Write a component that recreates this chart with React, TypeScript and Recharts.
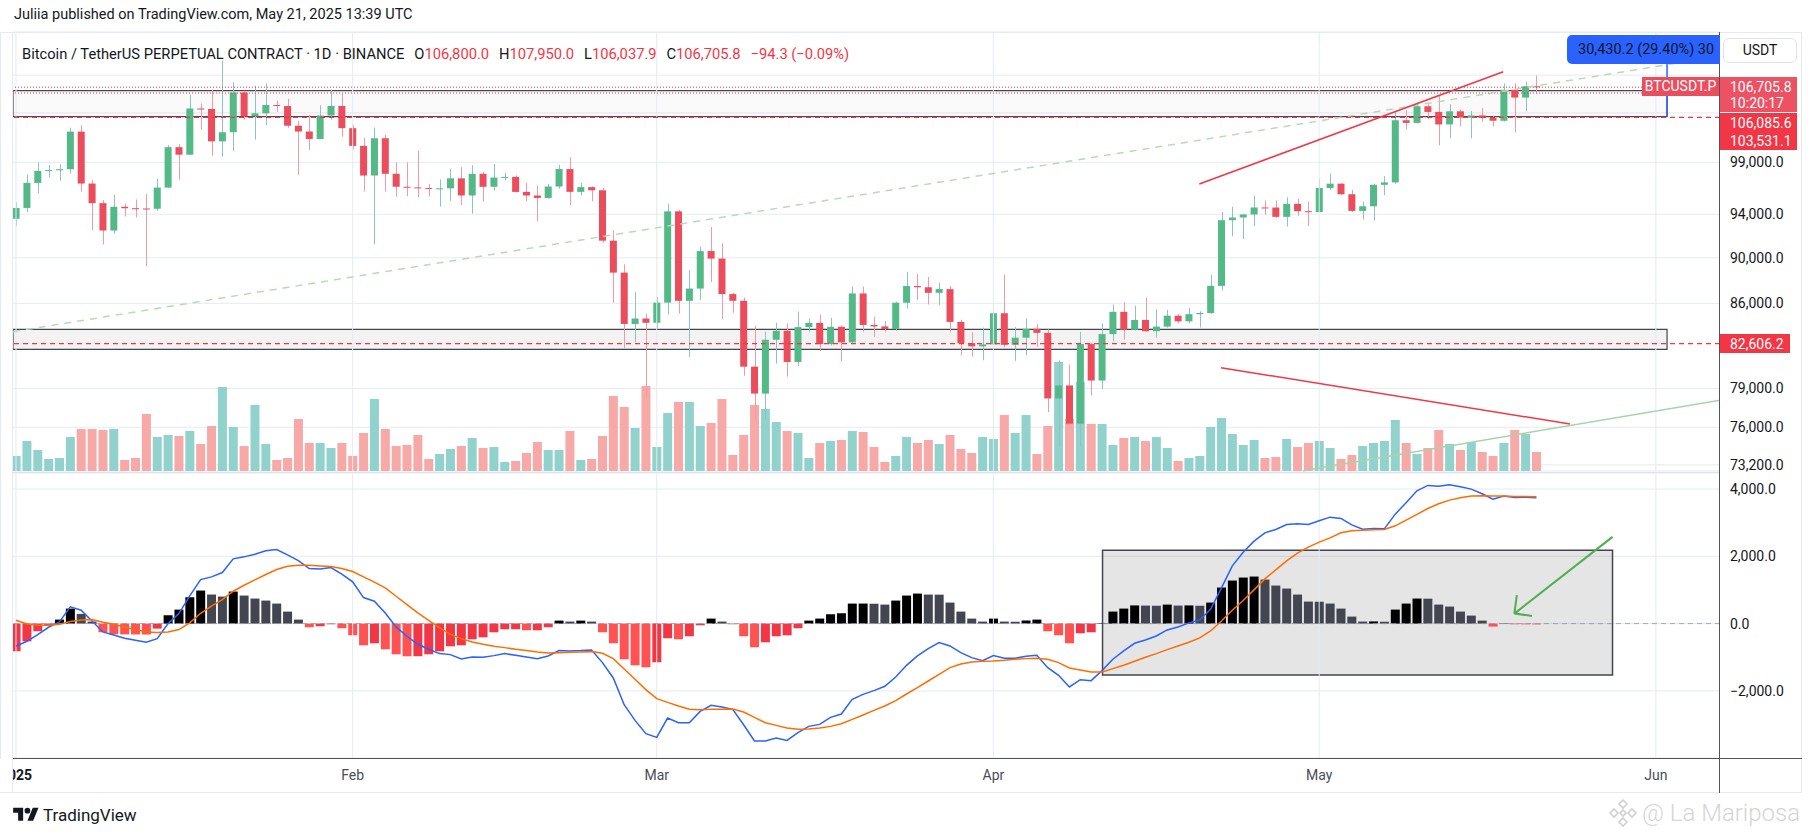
import {
  ComposedChart,
  Bar,
  Line,
  XAxis,
  YAxis,
  CartesianGrid,
  ReferenceLine,
  ReferenceArea,
  Cell,
} from 'recharts'

const FONT = 'Roboto, "Noto Sans", sans-serif'
const W = 1814
const PLOT_LEFT = 13
const AXIS_W = 94
const X_DOMAIN: [number, number] = [-0.276, 156.906]
const P_DOMAIN: [number, number] = [72751, 112748]
const VOL_DOMAIN: [number, number] = [0, 1756]
const MACD_DOMAIN: [number, number] = [-3994, 4475]

const GRID = '#e4ebf2'
const UP = '#53b987'
const DOWN = '#eb4d5c'
const WICK_UP = '#8fc3bd'
const WICK_DOWN = '#f09aa4'
const VOL_UP = '#92d2cc'
const VOL_DOWN = '#f6a9a7'
const RED = '#f23645'

// day index 0 = Jan 1 2025
const MONTH_TICKS = [0, 31, 59, 90, 120, 151]
const MONTH_LABELS = ['2025', 'Feb', 'Mar', 'Apr', 'May', 'Jun']
const PRICE_TICKS = [73200, 76000, 79000, 86000, 90000, 94000, 99000, 104000, 108000]
// these two sit under the price labels on the scale
const HIDDEN_TICKS = [104000, 108000]
const MACD_TICKS = [-2000, 0, 2000, 4000]

const OPEN = [
  93576, 94591, 96984, 98143, 98236, 98314, 102078, 96922, 95043, 92484,
  94701, 94566, 94540, 94516, 96534, 100504, 99756, 104462, 104408, 101089,
  102016, 106147, 103653, 103960, 104819, 104714, 102682, 102087, 101332, 103733,
  104722, 102429, 100635, 97700, 101405, 97871, 96615, 96554, 96500, 96444,
  96462, 97430, 95778, 97869, 96608, 97500, 97569, 96118, 95773, 95539,
  96635, 98333, 96125, 96577, 96273, 91552, 88680, 84250, 84708, 84350,
  86064, 94270, 86220, 87281, 90606, 89931, 86801, 86222, 80734, 78595,
  82932, 83680, 81115, 83983, 84338, 82574, 84010, 82718, 86854, 84167,
  84044, 83832, 86054, 87498, 87392, 86909, 87232, 84424, 82648, 82390,
  82550, 85158, 82516, 83102, 83843, 83504, 78214, 79235, 76271, 82573,
  79626, 83404, 85276, 83760, 84591, 83643, 84030, 84947, 84474, 85077,
  85179, 87516, 93442, 93691, 93980, 94638, 94630, 93754, 94978, 94284,
  94207, 96492, 96910, 95891, 94315, 94748, 96802, 97032, 103241, 102971,
  104696, 104106, 102812, 104169, 103539, 103744, 103489, 103191, 106430, 105606,
  106800,
]

const HIGH = [
  95150, 97800, 98976, 98734, 98800, 102482, 102724, 97258, 95349, 95836,
  95000, 95400, 95900, 97372, 100700, 100800, 105865, 104988, 106422, 109588,
  107240, 106327, 106850, 107120, 105286, 105470, 103200, 103783, 104782, 106457,
  106012, 102783, 101456, 102500, 101745, 99000, 99000, 100137, 96880, 97323,
  98345, 98500, 98711, 98080, 98826, 97970, 97715, 97000, 96700, 96899,
  98757, 99500, 96980, 96650, 96500, 92500, 89414, 87000, 85120, 86558,
  95000, 94416, 88900, 91000, 92810, 91300, 86900, 86500, 84100, 83600,
  84350, 84300, 85300, 84700, 85050, 84750, 84100, 87450, 87450, 84850,
  84500, 86150, 88750, 88550, 88300, 87800, 87500, 84600, 83550, 83950,
  85600, 88500, 83998, 84700, 84230, 83800, 81243, 80900, 83588, 82700,
  84300, 85900, 86100, 85800, 86500, 85500, 85450, 85100, 85600, 85320,
  88500, 94200, 94700, 94000, 95750, 95300, 95300, 95600, 95450, 95200,
  97450, 97900, 96950, 96300, 95200, 96900, 97650, 104200, 104300, 104950,
  105000, 105800, 104900, 104350, 104200, 104500, 103700, 107100, 107100, 107300,
  107950,
]

const LOW = [
  92900, 94200, 96000, 97500, 97200, 97900, 96132, 92500, 91203, 92206,
  93800, 93700, 89256, 94322, 96466, 97300, 99700, 102277, 99651, 99550,
  100100, 103300, 101262, 102750, 104100, 102460, 97777, 100233, 101328, 103300,
  101560, 100279, 96150, 91231, 96150, 95656, 95700, 95620, 95688, 94713,
  95256, 94850, 94059, 95200, 96252, 97223, 96046, 95200, 93340, 95465,
  96415, 94871, 95770, 95227, 91370, 86050, 82256, 82716, 78258, 83824,
  85050, 85117, 81500, 86300, 87850, 84667, 85200, 80000, 76606, 76555,
  80980, 79930, 80800, 83600, 82000, 82450, 81150, 82600, 83600, 83150,
  83600, 83700, 85550, 86300, 85900, 85850, 83600, 81650, 81550, 81250,
  82450, 82300, 81200, 81650, 82350, 77153, 74508, 76200, 74589, 78450,
  78950, 82800, 82950, 83700, 83600, 83100, 83950, 84300, 84300, 83950,
  85100, 87100, 91950, 91700, 92900, 93950, 93650, 92850, 93850, 92900,
  94200, 96300, 95800, 94200, 93500, 93400, 95800, 96900, 102300, 102900,
  103350, 100700, 101400, 102600, 101400, 103100, 102600, 103100, 102000, 104200,
  106037.9,
]

const CLOSE = [
  94591, 96984, 98143, 98236, 98314, 102078, 96922, 95043, 92484, 94701,
  94566, 94488, 94516, 96534, 100504, 99756, 104462, 104408, 101089, 102016,
  106147, 103653, 103960, 104819, 104714, 102682, 102087, 101332, 103733, 104722,
  102429, 100635, 97700, 101405, 97871, 96615, 96554, 96500, 96444, 96462,
  97430, 95778, 97869, 96608, 97500, 97569, 96118, 95773, 95539, 96635,
  98333, 96125, 96577, 96273, 91552, 88680, 84250, 84708, 84350, 86064,
  94270, 86220, 87281, 90606, 89931, 86801, 86222, 80734, 78595, 82932,
  83680, 81115, 83983, 84338, 82574, 84010, 82718, 86854, 84167, 84044,
  83832, 86054, 87498, 87392, 86909, 87232, 84424, 82648, 82390, 82550,
  85158, 82516, 83102, 83843, 83504, 78214, 79235, 76271, 82573, 79626,
  83404, 85276, 83760, 84591, 83643, 84030, 84947, 84474, 85077, 85179,
  87516, 93442, 93691, 93980, 94638, 94630, 93754, 94978, 94284, 94207,
  96492, 96910, 95891, 94315, 94748, 96802, 97032, 103241, 102971, 104696,
  104106, 102812, 104169, 103539, 103744, 103489, 103191, 106430, 105606, 106800,
  106705.8,
]

// thousand BTC
const VOLUME = [
  60, 120, 84, 48, 52, 136, 168, 168, 164, 168, 44, 52, 228, 136, 144, 140, 160, 108, 180, 336,
  176, 100, 264, 108, 44, 52, 208, 112, 112, 92, 112, 60, 152, 288, 168, 100,
  104, 144, 48, 68, 88, 100, 132, 92, 96, 36, 40, 72, 116, 84, 84, 160, 44, 48, 140, 300,
  256, 172, 340, 96, 232, 276, 276, 180, 192, 288, 64, 144, 264, 248, 196, 160,
  152, 52, 112, 120, 124, 160, 156, 96, 36, 60, 136, 112, 124, 108, 144, 88, 72, 136, 128, 224,
  152, 224, 68, 180, 436, 208, 356, 188, 188, 104, 132, 136, 120, 136, 92, 40,
  52, 60, 176, 212, 148, 104, 124, 52, 56, 128, 96, 112, 120, 92, 48, 64, 100, 112, 120, 204,
  112, 68, 92, 164, 108, 84, 116, 76, 60, 112, 164, 148, 76,
]

const MACD = [
  -674, -526, -327, -109, 50, 496, 397, 79, -248, -337,
  -436, -496, -555, -446, 0, 297, 823, 1309, 1388, 1517,
  1924, 1983, 2063, 2162, 2201, 2043, 1874, 1636, 1626, 1666,
  1468, 1240, 773, 664, 317, -99, -377, -615, -764, -892,
  -922, -1051, -992, -1002, -952, -892, -942, -992, -1041, -962,
  -803, -813, -803, -783, -1160, -1616, -2410, -2876, -3272, -3381,
  -2806, -2945, -2945, -2608, -2430, -2479, -2549, -3005, -3490, -3490,
  -3401, -3471, -3243, -3054, -2995, -2786, -2687, -2251, -2102, -1993,
  -1864, -1587, -1240, -962, -744, -565, -664, -863, -1011, -1101,
  -952, -1031, -1031, -972, -942, -1309, -1537, -1884, -1666, -1696,
  -1398, -1060, -813, -585, -486, -367, -188, -99, 20, 109,
  426, 1061, 1715, 2122, 2449, 2697, 2796, 2945, 2965, 2945,
  3054, 3163, 3124, 2935, 2806, 2826, 2816, 3252, 3590, 3947,
  4105, 4085, 4125, 4066, 3996, 3857, 3699, 3788, 3748, 3758,
  3738,
]

const SIGNAL = [
  99, -10, -50, -50, -20, 59, 109, 119, 40, -20,
  -109, -178, -248, -268, -248, -178, 20, 307, 516, 714,
  962, 1140, 1299, 1458, 1606, 1706, 1735, 1735, 1715, 1696,
  1636, 1547, 1388, 1230, 1061, 813, 565, 317, 99, -129,
  -317, -446, -545, -615, -674, -714, -764, -803, -843, -873,
  -863, -853, -843, -833, -883, -1041, -1349, -1656, -1963, -2231,
  -2340, -2449, -2548, -2558, -2548, -2548, -2538, -2628, -2786, -2945,
  -3024, -3104, -3143, -3133, -3104, -3054, -2975, -2846, -2717, -2578,
  -2449, -2291, -2092, -1904, -1706, -1507, -1309, -1200, -1140, -1121,
  -1111, -1091, -1061, -1041, -1031, -1061, -1160, -1319, -1378, -1438,
  -1438, -1339, -1240, -1121, -1002, -892, -773, -664, -555, -426,
  -218, 79, 397, 684, 1002, 1329, 1597, 1864, 2092, 2271,
  2420, 2548, 2697, 2757, 2777, 2786, 2796, 2905, 3074, 3243,
  3421, 3560, 3669, 3738, 3788, 3798, 3788, 3788, 3778, 3778,
  3768,
]

const HIST = [
  -823, -526, -228, -60, 119, 446, 288, 60, -258, -317,
  -320, -322, -325, -149, 248, 416, 783, 982, 863, 803,
  952, 833, 744, 684, 595, 357, 119, -109, -79, -20,
  -139, -347, -645, -585, -764, -912, -972, -970, -912, -823,
  -674, -645, -466, -407, -258, -169, -169, -198, -198, -109,
  89, 60, 89, 60, -258, -585, -1061, -1240, -1299, -1150,
  -436, -466, -377, -50, 149, 60, -20, -377, -704, -555,
  -377, -347, -139, 89, 149, 278, 307, 595, 595, 590,
  565, 684, 833, 892, 863, 860, 625, 357, 149, 60,
  149, 60, 55, 89, 119, -228, -347, -585, -288, -258,
  15, 357, 446, 540, 535, 530, 565, 535, 540, 530,
  625, 1071, 1279, 1368, 1398, 1309, 1130, 1041, 863, 654,
  650, 595, 446, 208, 60, 65, 55, 416, 595, 744,
  740, 565, 506, 357, 238, 89, -89, 10, -20, -22,
  -24,
]

// drawings (day index, price / macd value)
const GREEN_TREND = [{ x: -0.276, y: 83602 }, { x: 156.906, y: 110058 }]
const RED_TREND_UP = [{ x: 108.96, y: 96879 }, { x: 136.95, y: 108370 }]
const RED_TREND_VOL = [{ x: 110.96, y: 80653 }, { x: 143.09, y: 76245 }]
const GREEN_TREND_VOL = [{ x: 118.51, y: 72776 }, { x: 156.906, y: 78080 }]
const MEASURE_LINE = [{ x: 152.03, y: 109204 }, { x: 152.03, y: 103610 }]
const ZONE_TOP = { x1: -0.276, x2: 152.03, y1: 103610, y2: 106333 }
const ZONE_BOTTOM = { x1: -0.276, x2: 152.03, y1: 82145, y2: 83802 }
const MACD_BOX = { x1: 100.05, x2: 147.01, y1: -1527, y2: 2182 }
const ARROW = [
  [{ x: 147.01, y: 2578 }, { x: 137.97, y: 297 }],
  [{ x: 137.97, y: 297 }, { x: 138.2, y: 843 }],
  [{ x: 137.97, y: 297 }, { x: 139.6, y: 228 }],
]

type Row = {
  d: number; o: number; h: number; l: number; c: number
  vol: number; macd: number; sig: number; hist: number
}

const rows: Row[] = CLOSE.map((c, i) => ({
  d: i, o: OPEN[i], h: HIGH[i], l: LOW[i], c,
  vol: VOLUME[i], macd: MACD[i], sig: SIGNAL[i], hist: HIST[i],
}))

function histColor(i: number) {
  const v = HIST[i]
  const prev = i > 0 ? HIST[i - 1] : -Infinity
  if (v >= 0) return v >= prev ? '#000000' : '#434651'
  return v < prev ? '#ff5252' : '#f23645'
}

const fmt1 = (v: number) =>
  (v < 0 ? '\u2212' : '') +
  Math.abs(v).toLocaleString('en-US', { minimumFractionDigits: 1, maximumFractionDigits: 1 })

const priceFmt = (v: number) => (HIDDEN_TICKS.includes(v) ? '' : fmt1(v))

function Candle(props: any) {
  const { x, y, width, height, payload } = props
  if (!payload || x == null || y == null) return null
  const { o, h, l, c } = payload as Row
  const top = Math.min(y, y + height)
  const hgt = Math.abs(height)
  const lh = Math.log(h)
  const span = lh - Math.log(l) || 1
  const py = (v: number) => top + (hgt * (lh - Math.log(v))) / span
  const up = c >= o
  const bTop = py(Math.max(o, c))
  const bBot = py(Math.min(o, c))
  const cx = Math.round(x + width / 2) + 0.5
  return (
    <g>
      <line x1={cx} x2={cx} y1={top} y2={top + hgt} stroke={up ? WICK_UP : WICK_DOWN} strokeWidth={1} />
      <rect x={x} y={bTop} width={width} height={Math.max(1, bBot - bTop)} fill={up ? UP : DOWN} />
    </g>
  )
}

function MonthTick(props: any) {
  const { x, y, payload } = props
  const i = MONTH_TICKS.indexOf(payload.value)
  return (
    <text
      x={x}
      y={y}
      dy={14}
      textAnchor="middle"
      fontSize={14}
      fontFamily={FONT}
      fontWeight={i === 0 ? 700 : 400}
      fill={i === 0 ? '#131722' : '#4a4d57'}
    >
      {MONTH_LABELS[i]}
    </text>
  )
}

const axisTick = { fontSize: 14, fill: '#131722', fontFamily: FONT }

function PriceLabel({ top, height, bg, children, width = 77 }: any) {
  return (
    <div
      style={{
        position: 'absolute', left: 1720, top, width, height, background: bg,
        color: '#fff', fontSize: 14, paddingLeft: 10, boxSizing: 'border-box',
        display: 'flex', flexDirection: 'column', justifyContent: 'center', lineHeight: '16px',
        whiteSpace: 'nowrap',
      }}
    >
      {children}
    </div>
  )
}

function Legend() {
  const items: [string, string][] = [
    ['O', '106,800.0'],
    ['H', '107,950.0'],
    ['L', '106,037.9'],
    ['C', '106,705.8'],
  ]
  return (
    <div style={{ position: 'absolute', left: 22, top: 45, fontSize: 14.7, lineHeight: '18px', color: '#131722', whiteSpace: 'nowrap' }}>
      <span>Bitcoin / TetherUS PERPETUAL CONTRACT · 1D · BINANCE</span>
      {items.map(([k, v]) => (
        <span key={k} style={{ marginLeft: 10 }}>
          {k}
          <span style={{ color: RED }}>{v}</span>
        </span>
      ))}
      <span style={{ marginLeft: 10, color: RED }}>{'\u221294.3 (\u22120.09%)'}</span>
    </div>
  )
}

export default function App() {
  return (
    <div style={{ position: 'absolute', left: 0, top: 0, width: W, height: 837, overflow: 'hidden', background: '#fff', fontFamily: FONT }}>
      <div style={{ position: 'absolute', left: 14, top: 6, fontSize: 14.5, lineHeight: '18px', color: '#131722', whiteSpace: 'nowrap' }}>
        Juliia published on TradingView.com, May 21, 2025 13:39 UTC
      </div>

      {/* chart frame */}
      <div style={{ position: 'absolute', left: 0, top: 32, width: 1802, height: 761, border: '1px solid #e6e9ef', boxSizing: 'border-box' }} />

      {/* price + volume pane */}
      <div style={{ position: 'absolute', left: 0, top: 0 }}>
        <ComposedChart width={W} height={480} data={rows} margin={{ top: 32, right: 0, bottom: 9, left: PLOT_LEFT }}>
          <XAxis xAxisId="c" type="number" dataKey="d" domain={X_DOMAIN} allowDataOverflow hide />
          <XAxis xAxisId="v" type="number" dataKey="d" domain={X_DOMAIN} allowDataOverflow hide />
          <YAxis
            yAxisId="p"
            orientation="right"
            width={AXIS_W}
            scale="log"
            domain={P_DOMAIN}
            allowDataOverflow
            ticks={PRICE_TICKS}
            interval={0}
            tickFormatter={priceFmt}
            tick={axisTick}
            axisLine={false}
            tickLine={false}
            tickMargin={4}
          />
          <YAxis yAxisId="v" domain={VOL_DOMAIN} allowDataOverflow hide />
          <CartesianGrid xAxisId="c" yAxisId="p" vertical={false} stroke={GRID} />
          {MONTH_TICKS.map((t) => (
            <ReferenceLine key={t} xAxisId="c" yAxisId="p" x={t} stroke={GRID} ifOverflow="visible" />
          ))}
          <ReferenceArea xAxisId="c" yAxisId="p" {...ZONE_TOP} fill="rgba(120,123,134,0.04)" fillOpacity={1} stroke="#434651" strokeWidth={1.2} ifOverflow="visible" />
          <ReferenceArea xAxisId="c" yAxisId="p" {...ZONE_BOTTOM} fill="rgba(120,123,134,0.09)" fillOpacity={1} stroke="#434651" strokeWidth={1.2} ifOverflow="visible" />
          <Bar xAxisId="v" yAxisId="v" dataKey="vol" barSize={9} isAnimationActive={false}>
            {rows.map((r) => (
              <Cell key={r.d} fill={r.c >= r.o ? VOL_UP : VOL_DOWN} />
            ))}
          </Bar>
          <Bar
            xAxisId="c"
            yAxisId="p"
            dataKey={(r: Row) => [r.l, r.h]}
            barSize={7}
            shape={Candle}
            isAnimationActive={false}
          />
          <ReferenceLine xAxisId="c" yAxisId="p" y={106705.8} stroke={RED} strokeDasharray="1 2" ifOverflow="visible" />
          <ReferenceLine xAxisId="c" yAxisId="p" y={106085.6} stroke={RED} strokeDasharray="1 2" ifOverflow="visible" />
          <ReferenceLine xAxisId="c" yAxisId="p" y={103531.1} stroke={RED} strokeDasharray="5 4" strokeWidth={1.2} ifOverflow="visible" />
          <ReferenceLine xAxisId="c" yAxisId="p" y={82606.2} stroke={RED} strokeDasharray="5 4" strokeWidth={1.2} ifOverflow="visible" />
          <ReferenceLine xAxisId="c" yAxisId="p" segment={GREEN_TREND} stroke="#b9d9b9" strokeDasharray="7 6" strokeWidth={1.5} ifOverflow="visible" />
          <ReferenceLine xAxisId="c" yAxisId="p" segment={RED_TREND_UP} stroke={RED} strokeWidth={1.5} ifOverflow="visible" />
          <ReferenceLine xAxisId="c" yAxisId="p" segment={RED_TREND_VOL} stroke={RED} strokeWidth={1.5} ifOverflow="visible" />
          <ReferenceLine xAxisId="c" yAxisId="p" segment={GREEN_TREND_VOL} stroke="#a9d3ab" strokeWidth={1.5} ifOverflow="visible" />
          <ReferenceLine xAxisId="c" yAxisId="p" segment={MEASURE_LINE} stroke="#2962ff" strokeWidth={1.5} ifOverflow="visible" />
        </ComposedChart>
      </div>

      {/* pane separator */}
      <div style={{ position: 'absolute', left: 13, top: 472, width: 1706, height: 1, background: '#e0e3eb' }} />

      {/* MACD pane */}
      <div style={{ position: 'absolute', left: 0, top: 473 }}>
        <ComposedChart width={W} height={320} data={rows} margin={{ top: 0, right: 0, bottom: 0, left: PLOT_LEFT }}>
          <XAxis
            xAxisId="m"
            type="number"
            dataKey="d"
            domain={X_DOMAIN}
            allowDataOverflow
            ticks={MONTH_TICKS}
            interval={0}
            height={35}
            tick={<MonthTick />}
            axisLine={false}
            tickLine={false}
          />
          <YAxis
            yAxisId="m"
            orientation="right"
            width={AXIS_W}
            domain={MACD_DOMAIN}
            allowDataOverflow
            ticks={MACD_TICKS}
            interval={0}
            tickFormatter={fmt1}
            tick={axisTick}
            axisLine={false}
            tickLine={false}
            tickMargin={4}
          />
          <CartesianGrid xAxisId="m" yAxisId="m" vertical={false} stroke={GRID} />
          {MONTH_TICKS.map((t) => (
            <ReferenceLine key={t} xAxisId="m" yAxisId="m" x={t} stroke={GRID} ifOverflow="visible" />
          ))}
          <ReferenceArea xAxisId="m" yAxisId="m" {...MACD_BOX} fill="rgba(0,0,0,0.1)" fillOpacity={1} stroke="#434651" strokeWidth={1.5} ifOverflow="visible" />
          <Bar xAxisId="m" yAxisId="m" dataKey="hist" barSize={9} isAnimationActive={false}>
            {rows.map((r) => (
              <Cell key={r.d} fill={histColor(r.d)} />
            ))}
          </Bar>
          <ReferenceLine xAxisId="m" yAxisId="m" y={0} stroke="#9598a1" strokeOpacity={0.8} strokeDasharray="5 4" />
          <Line xAxisId="m" yAxisId="m" dataKey="macd" stroke="#2962ff" strokeWidth={1.5} dot={false} isAnimationActive={false} />
          <Line xAxisId="m" yAxisId="m" dataKey="sig" stroke="#ff6d00" strokeWidth={1.5} dot={false} isAnimationActive={false} />
          {ARROW.map((seg, i) => (
            <ReferenceLine key={i} xAxisId="m" yAxisId="m" segment={seg} stroke="#4caf50" strokeWidth={2} ifOverflow="visible" />
          ))}
        </ComposedChart>
      </div>

      {/* scale lines */}
      <div style={{ position: 'absolute', left: 1719, top: 32, width: 1, height: 761, background: '#50535e' }} />
      <div style={{ position: 'absolute', left: 13, top: 758, width: 1789, height: 1, background: '#50535e' }} />
      <div style={{ position: 'absolute', left: 0, top: 759, width: 12, height: 33, background: '#fff' }} />
      <div style={{ position: 'absolute', left: 12, top: 32, width: 1, height: 761, background: '#e6e9ef' }} />

      <Legend />

      {/* measure label */}
      <div
        style={{
          position: 'absolute', left: 1567, top: 35, width: 153, height: 29, background: '#2962ff',
          borderRadius: '5px 0 0 5px', color: '#131722', fontSize: 14.5, lineHeight: '29px',
          paddingLeft: 11, boxSizing: 'border-box', whiteSpace: 'nowrap', overflow: 'hidden',
        }}
      >
        30,430.2 (29.40%) 30
      </div>
      <div
        style={{
          position: 'absolute', left: 1723, top: 38, width: 74, height: 25, border: '1px solid #e0e3eb',
          borderRadius: 6, boxSizing: 'border-box', fontSize: 14, lineHeight: '23px', textAlign: 'center', color: '#131722',
        }}
      >
        USDT
      </div>

      <div
        style={{
          position: 'absolute', left: 1642, top: 77, width: 77, height: 19, background: '#ec4d5d',
          color: '#fff', fontSize: 14, lineHeight: '19px', textAlign: 'center',
        }}
      >
        BTCUSDT.P
      </div>
      <PriceLabel top={77} height={35} bg="#ec5263">
        <span>106,705.8</span>
        <span>10:20:17</span>
      </PriceLabel>
      <PriceLabel top={113} height={19} bg={RED}>106,085.6</PriceLabel>
      <PriceLabel top={132} height={18} bg={RED}>103,531.1</PriceLabel>
      <PriceLabel top={334} height={19} bg={RED} width={70}>82,606.2</PriceLabel>

      {/* footer */}
      <div style={{ position: 'absolute', left: 13, top: 805, display: 'flex', alignItems: 'center', color: '#131722' }}>
        <svg width={26} height={20} viewBox="0 0 36 28">
          <path d="M14 22H7V11H0V4h14v18Z" fill="#131722" />
          <path d="M28 22h-8l7.5-18h8L28 22Z" fill="#131722" />
          <circle cx={20} cy={8} r={4} fill="#131722" />
        </svg>
        <span style={{ marginLeft: 4, fontSize: 17 }}>TradingView</span>
      </div>
      <div style={{ position: 'absolute', left: 1608, top: 798, display: 'flex', alignItems: 'center', color: '#d5d5d5', whiteSpace: 'nowrap' }}>
        <svg width={30} height={30} viewBox="0 0 30 30">
          <g fill="none" stroke="#d0d0d0" strokeWidth={1.6}>
            <path d="M15 2l4 4-4 4-4-4z" />
            <path d="M15 20l4 4-4 4-4-4z" />
            <path d="M6 11l4 4-4 4-4-4z" />
            <path d="M24 11l4 4-4 4-4-4z" />
            <path d="M15 12l3 3-3 3-3-3z" />
          </g>
        </svg>
        <span style={{ marginLeft: 4, fontSize: 24, fontWeight: 300 }}>@ La Mariposa</span>
      </div>
    </div>
  )
}
